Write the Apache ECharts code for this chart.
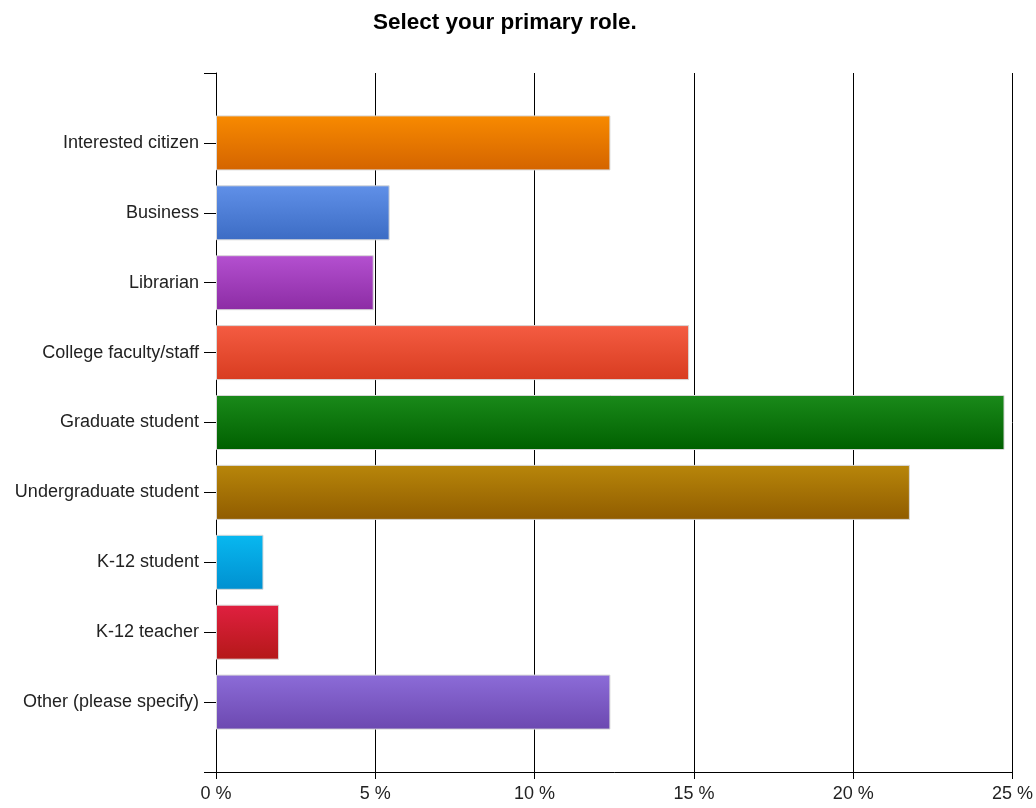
<!DOCTYPE html>
<html>
<head>
<meta charset="utf-8">
<script src="https://cdn.jsdelivr.net/npm/echarts@6/dist/echarts.min.js"></script>
<style>html,body{margin:0;padding:0;background:#fff}#c{width:1036px;height:808px}</style>
</head>
<body>
<div id="c"></div>
<script>
const titleText = 'Select your primary role.';
const categories = ['Interested citizen','Business','Librarian','College faculty/staff','Graduate student','Undergraduate student','K-12 student','K-12 teacher','Other (please specify)'];
const values = [12.38, 5.45, 4.95, 14.85, 24.75, 21.78, 1.49, 1.98, 12.38];
const colorTop = ['#f88a00','#6090e8','#b450d0','#f45c42','#1a8a1a','#b8860a','#08b8f0','#e02040','#8c6cd8'];
const colorBottom = ['#d46400','#3c6cc4','#8c2ca4','#d83c20','#006000','#905c00','#0090d0','#b41818','#6c48b0'];
const xTicks = [0, 5, 10, 15, 20, 25];

const axisCats = [''].concat(categories).concat(['']);
const seriesData = [null].concat(values.map((v, i) => ({
  value: v,
  itemStyle: {
    color: new echarts.graphic.LinearGradient(0, 0, 0, 1, [
      {offset: 0, color: colorTop[i]},
      {offset: 1, color: colorBottom[i]}
    ]),
    borderColor: '#d8d8d8',
    borderWidth: 1
  }
}))).concat([null]);

const FONT = 'Liberation Sans, Arial, sans-serif';
const chart = echarts.init(document.getElementById('c'), null, {renderer: 'canvas'});
chart.setOption({
  animation: false,
  backgroundColor: '#fff',
  title: {
    text: titleText,
    left: 368, top: 6,
    textStyle: {fontFamily: FONT, fontSize: 22.5, fontWeight: 'bold', color: '#000'}
  },
  grid: {left: 216, right: 23, top: 73, bottom: 36, containLabel: false},
  xAxis: {
    type: 'value', min: 0, max: xTicks[xTicks.length - 1], interval: 5,
    axisLine: {show: true, lineStyle: {color: '#000', width: 1}},
    axisTick: {show: true, length: 7, lineStyle: {color: '#000'}},
    axisLabel: {formatter: '{value} %', color: '#222', fontSize: 18, fontFamily: FONT, margin: 13},
    splitLine: {show: true, lineStyle: {color: '#000', width: 1}}
  },
  yAxis: {
    type: 'category', data: axisCats, inverse: true, boundaryGap: false,
    axisLine: {show: true, lineStyle: {color: '#000', width: 1}},
    axisTick: {show: true, length: 12, inside: false, lineStyle: {color: '#000'}},
    axisLabel: {color: '#222', fontSize: 18, fontFamily: FONT, margin: 17, interval: 0},
    splitLine: {show: false}
  },
  series: [{
    type: 'bar', data: seriesData, barWidth: 55
  }]
});
</script>
</body>
</html>
